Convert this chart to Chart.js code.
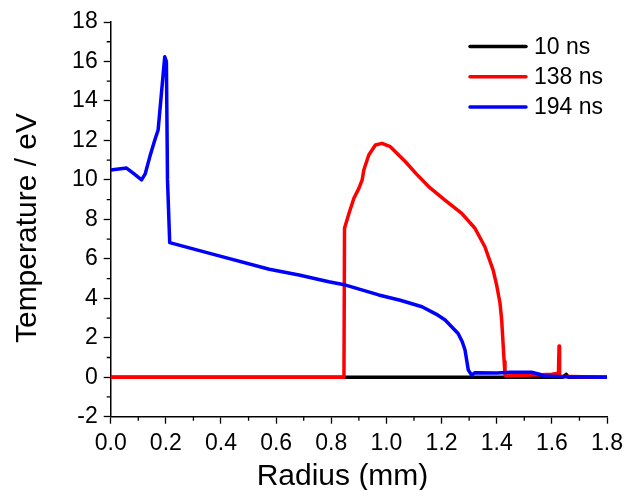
<!DOCTYPE html>
<html lang="en">
<head>
    <meta charset="UTF-8">
    <title>Temperature vs Radius</title>
    <script src="https://cdn.jsdelivr.net/npm/chart.js"></script>
    <style>
        body {
            margin: 0;
            background-color: #ffffff;
        }
        #chart-container {
            width: 629px;
            height: 490px;
        }
    </style>
</head>
<body>
    <div id="chart-container">
        <canvas id="tempChart"></canvas>
    </div>

    <script>
        // Temperature profiles (eV) against radius (mm) at three times
        const seriesLabels = ['10 ns', '138 ns', '194 ns'];
        const seriesColors = ['#000000', '#ff0000', '#0000ff'];

        const radius10 = [0, 1.64, 1.652, 1.66, 1.8];
        const temp10 = [0, 0, 0.15, 0, 0];

        const radius138 = [0, 0.846, 0.848, 0.864, 0.882, 0.9, 0.912, 0.918, 0.936, 0.96, 0.984,
            1.014, 1.069, 1.11, 1.153, 1.21, 1.273, 1.321, 1.357, 1.387, 1.4, 1.412, 1.418, 1.423,
            1.427, 1.43, 1.435, 1.5, 1.56, 1.6, 1.624, 1.626, 1.628, 1.8];
        const temp138 = [0, 0, 7.55, 8.3, 9.07, 9.57, 10.0, 10.5, 11.26, 11.77, 11.85,
            11.68, 10.92, 10.28, 9.66, 9.0, 8.3, 7.55, 6.61, 5.43, 4.65, 3.75, 2.9, 1.72,
            0.8, 0.11, 0.06, 0.1, 0.12, 0.15, 0.2, 1.58, 0.05, 0];

        const radius194 = [0, 0.0575, 0.085, 0.112, 0.125, 0.142, 0.16, 0.172, 0.184, 0.196, 0.202,
            0.206, 0.214, 0.383, 0.575, 0.683, 0.791, 0.852, 0.972, 1.05, 1.129, 1.18, 1.213, 1.26,
            1.275, 1.285, 1.297, 1.309, 1.321, 1.4, 1.45, 1.526, 1.555, 1.574, 1.65, 1.8];
        const temp194 = [10.5, 10.6, 10.3, 10.0, 10.3, 11.18, 12.02, 12.53, 14.39, 16.24, 16.0,
            10.0, 6.82, 6.19, 5.47, 5.18, 4.84, 4.67, 4.17, 3.9, 3.57, 3.2, 2.9, 2.22,
            1.8, 1.38, 0.36, 0.11, 0.23, 0.22, 0.25, 0.25, 0.15, 0.06, 0.02, 0];

        const xTicks = [0, 0.2, 0.4, 0.6, 0.8, 1.0, 1.2, 1.4, 1.6, 1.8];
        const yTicks = [-2, 0, 2, 4, 6, 8, 10, 12, 14, 16, 18];

        const FONT = '"Liberation Sans", Arial, sans-serif';

        function toPoints(xs, ys) {
            return xs.map((x, i) => ({ x: x, y: ys[i] }));
        }

        // minor ticks, legend and axis titles
        const decorations = {
            id: 'decorations',
            afterDraw(chart) {
                const ctx = chart.ctx;
                const xs = chart.scales.x;
                const ys = chart.scales.y;
                const area = chart.chartArea;

                ctx.save();
                ctx.strokeStyle = '#000';
                ctx.lineWidth = 1.3;
                ctx.beginPath();
                for (let i = 0; i < xTicks.length - 1; i++) {
                    const px = xs.getPixelForValue((xTicks[i] + xTicks[i + 1]) / 2);
                    ctx.moveTo(px, area.bottom);
                    ctx.lineTo(px, area.bottom + 4);
                }
                for (let i = 0; i < yTicks.length - 1; i++) {
                    const py = ys.getPixelForValue((yTicks[i] + yTicks[i + 1]) / 2);
                    ctx.moveTo(area.left, py);
                    ctx.lineTo(area.left - 4, py);
                }
                ctx.stroke();

                // legend
                ctx.font = '23px ' + FONT;
                ctx.textBaseline = 'middle';
                ctx.textAlign = 'left';
                chart.data.datasets.forEach((ds, i) => {
                    const y = 46.5 + i * 30.3;
                    ctx.strokeStyle = ds.borderColor;
                    ctx.lineWidth = 3.5;
                    ctx.lineCap = 'round';
                    ctx.beginPath();
                    ctx.moveTo(470, y);
                    ctx.lineTo(526, y);
                    ctx.stroke();
                    ctx.fillStyle = '#000';
                    ctx.fillText(ds.label, 534, y + 1);
                });

                // axis titles
                ctx.font = '30px ' + FONT;
                ctx.textAlign = 'center';
                ctx.textBaseline = 'alphabetic';
                ctx.fillText('Radius (mm)', 342.5, 485);
                ctx.translate(36, 228);
                ctx.rotate(-Math.PI / 2);
                ctx.fillText('Temperature / eV', 0, 0);
                ctx.restore();
            }
        };

        const axisStyle = {
            border: { color: '#000', width: 1.5 },
            grid: {
                drawOnChartArea: false,
                drawTicks: true,
                tickLength: 7,
                tickWidth: 1.3,
                tickColor: '#000'
            }
        };

        const ctx = document.getElementById('tempChart').getContext('2d');
        const chart = new Chart(ctx, {
            type: 'line',
            data: {
                datasets: [
                    { label: seriesLabels[0], data: toPoints(radius10, temp10), order: 3 },
                    { label: seriesLabels[1], data: toPoints(radius138, temp138), order: 2 },
                    { label: seriesLabels[2], data: toPoints(radius194, temp194), order: 1 }
                ].map((ds, i) => Object.assign(ds, {
                    borderColor: seriesColors[i],
                    backgroundColor: seriesColors[i],
                    borderWidth: 3.5,
                    pointRadius: 0,
                    tension: 0,
                    borderJoinStyle: 'round',
                    borderCapStyle: 'round'
                }))
            },
            options: {
                responsive: true,
                maintainAspectRatio: false,
                animation: false,
                layout: { padding: { top: 22, right: 19.7, left: 0, bottom: 0 } },
                plugins: {
                    legend: { display: false },
                    tooltip: { enabled: false }
                },
                scales: {
                    x: Object.assign({}, axisStyle, {
                        type: 'linear',
                        min: 0,
                        max: 1.8,
                        afterBuildTicks: scale => { scale.ticks = xTicks.map(v => ({ value: v })); },
                        afterFit: scale => { scale.height = 73.3; },
                        ticks: {
                            color: '#000',
                            padding: 6,
                            maxRotation: 0,
                            font: { family: FONT, size: 23 },
                            callback: v => v.toFixed(1)
                        }
                    }),
                    y: Object.assign({}, axisStyle, {
                        type: 'linear',
                        min: -2,
                        max: 18,
                        afterBuildTicks: scale => { scale.ticks = yTicks.map(v => ({ value: v })); },
                        afterFit: scale => { scale.width = 110.7; },
                        ticks: {
                            color: '#000',
                            padding: 6,
                            font: { family: FONT, size: 23 },
                            callback: v => String(v)
                        }
                    })
                }
            },
            plugins: [decorations]
        });
    </script>
</body>
</html>
